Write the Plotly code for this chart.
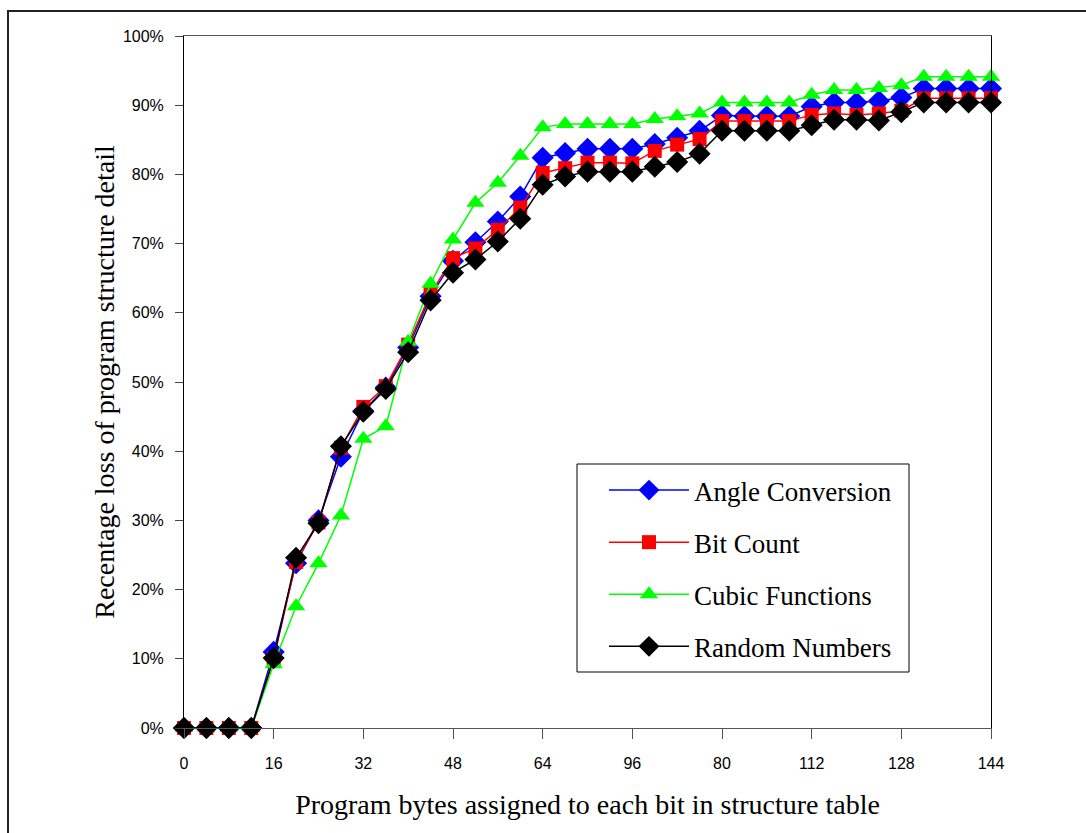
import plotly.graph_objects as go

x_bytes = list(range(0, 145, 4))
tick_vals = [0, 16, 32, 48, 64, 80, 96, 112, 128, 144]
tick_text = ["0", "16", "32", "48", "64", "96", "80", "112", "128", "144"]

angle_conversion = [0, 0, 0, 0, 11.0, 23.8, 30.0, 39.2, 45.8, 49.2, 55.0, 62.4, 67.5, 70.2, 73.2, 76.8,
                    82.4, 83.1, 83.7, 83.7, 83.7, 84.4, 85.3, 86.3, 88.5, 88.4, 88.4, 88.4, 89.8, 90.4,
                    90.4, 90.6, 91.1, 92.4, 92.4, 92.4, 92.4]
bit_count = [0, 0, 0, 0, 10.0, 24.0, 29.7, 40.5, 46.4, 49.4, 55.4, 62.8, 67.9, 69.3, 72.0, 75.2,
             80.2, 80.9, 81.7, 81.7, 81.6, 83.4, 84.3, 85.1, 87.7, 87.7, 87.7, 87.7, 88.6, 88.8,
             88.6, 88.8, 89.2, 91.0, 91.0, 91.0, 91.0]
cubic_functions = [0, 0, 0, 0, 9.2, 17.6, 23.8, 30.7, 41.8, 43.6, 55.8, 64.2, 70.6, 75.9, 78.8, 82.7,
                   86.8, 87.3, 87.3, 87.3, 87.3, 88.0, 88.4, 88.8, 90.4, 90.4, 90.4, 90.4, 91.5, 92.2,
                   92.2, 92.5, 92.9, 94.1, 94.1, 94.1, 94.1]
random_numbers = [0, 0, 0, 0, 10.1, 24.6, 29.6, 40.7, 45.7, 49.0, 54.3, 61.8, 65.8, 67.7, 70.3, 73.6,
                  78.5, 79.7, 80.4, 80.4, 80.4, 81.1, 81.8, 83.0, 86.3, 86.3, 86.3, 86.3, 87.1, 87.9,
                  87.9, 87.8, 89.0, 90.4, 90.4, 90.4, 90.4]

series = [
    ("Angle Conversion", angle_conversion, "#0000FF", "diamond", 17),
    ("Bit Count", bit_count, "#FF0000", "square", 14),
    ("Cubic Functions", cubic_functions, "#00FF00", "triangle-up", 16),
    ("Random Numbers", random_numbers, "#000000", "diamond", 17),
]

fig = go.Figure()
for name, vals, color, symbol, size in series:
    fig.add_trace(go.Scatter(
        x=x_bytes, y=[v / 100 for v in vals], name=name, mode="lines+markers",
        line=dict(color=color, width=1.5),
        marker=dict(symbol=symbol, size=size, color=color, line=dict(width=0)),
        cliponaxis=False, legendgroup=name,
    ))

serif = "Liberation Serif, Times New Roman, serif"
sans = "Liberation Sans, Arial, sans-serif"

W, H = 1086, 833
L, R, T, B = 184, 95, 36, 105
pw, ph = W - L - R, H - T - B

def px(xp):
    return (xp - L) / pw

def py(yp):
    return (H - B - yp) / ph

fig.update_layout(
    width=W, height=H,
    margin=dict(l=L, r=R, t=T, b=B, pad=0),
    paper_bgcolor="white", plot_bgcolor="white",
    showlegend=True,
    legend=dict(
        x=px(604), y=py(466), xanchor="left", yanchor="top",
        bgcolor="rgba(0,0,0,0)", borderwidth=0,
        font=dict(family=serif, size=27, color="black"),
        tracegroupgap=14, itemwidth=80,
    ),
    xaxis=dict(
        range=[0, 144], tickvals=tick_vals, ticktext=tick_text,
        showgrid=False, zeroline=False,
        showline=True, linecolor="#555", linewidth=1, mirror=True,
        ticks="outside", ticklen=10, tickcolor="#555",
        ticklabelstandoff=11,
        tickfont=dict(family=sans, size=16, color="black"),
        title=dict(text="Program bytes assigned to each bit in structure table",
                   font=dict(family=serif, size=28, color="black"), standoff=23),
    ),
    yaxis=dict(
        range=[0, 1], dtick=0.1, tickformat=".0%",
        showgrid=False, zeroline=False,
        showline=True, linecolor="black", linewidth=1, mirror=True,
        ticks="outside", ticklen=8, tickcolor="#444",
        ticklabelstandoff=8,
        tickfont=dict(family=sans, size=16, color="black"),
        title=dict(text="Recentage loss of program structure detail",
                   font=dict(family=serif, size=28, color="black"), standoff=0),
    ),
    shapes=[
        dict(type="rect", xref="paper", yref="paper",
             x0=px(8), x1=px(1100), y0=py(850), y1=py(11),
             line=dict(color="#222", width=2), fillcolor="rgba(0,0,0,0)", layer="below"),
        dict(type="rect", xref="paper", yref="paper",
             x0=px(577), x1=px(909), y0=py(672), y1=py(464),
             line=dict(color="black", width=1), fillcolor="white", layer="above"),
    ],
)
fig.write_html("out.html")
